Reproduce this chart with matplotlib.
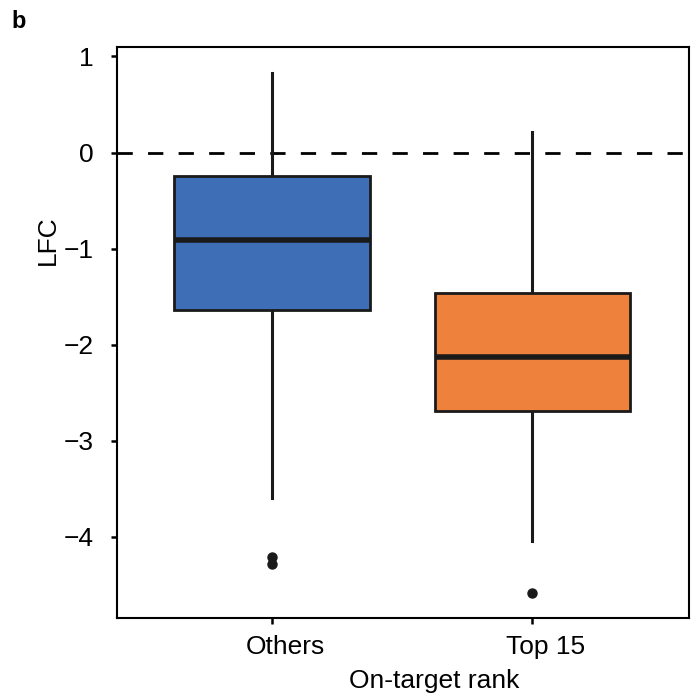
import matplotlib
matplotlib.use("Agg")
import matplotlib.pyplot as plt
import matplotlib.transforms as mtransforms

plt.rcParams["font.family"] = ["Liberation Sans", "DejaVu Sans"]

categories = ["Others", "Top 15"]
whisker_high = [0.83, 0.21]
q3 = [-0.24, -1.46]
median = [-0.91, -2.125]
q1 = [-1.64, -2.69]
whisker_low = [-3.59, -4.04]
outliers = [[-4.21, -4.28], [-4.58]]
colors = ["#3E6EB5", "#EE823C"]

stats = []
for i, name in enumerate(categories):
    stats.append(dict(label=name, med=median[i], q1=q1[i], q3=q3[i],
                      whislo=whisker_low[i], whishi=whisker_high[i],
                      fliers=outliers[i]))

fig = plt.figure(figsize=(6.99, 6.98), dpi=100)
ax = fig.add_axes([0.167, 0.115, 0.818, 0.818])

ax.axhline(0, color="black", lw=2.0, dashes=(5.5, 5.5), zorder=1)

bp = ax.bxp(stats, positions=[1, 2], widths=0.75, patch_artist=True,
            showcaps=False,
            boxprops=dict(edgecolor="#1a1a1a", linewidth=2.0),
            medianprops=dict(color="#1a1a1a", linewidth=4.0),
            whiskerprops=dict(color="#1a1a1a", linewidth=2.2),
            flierprops=dict(marker="o", markerfacecolor="#1a1a1a",
                            markeredgecolor="#1a1a1a", markersize=6.5))
for patch, c in zip(bp["boxes"], colors):
    patch.set_facecolor(c)
for w in bp["whiskers"]:
    w.set_zorder(2)
for b in bp["boxes"]:
    b.set_zorder(3)
for m in bp["medians"]:
    m.set_zorder(4)

ax.set_xlim(0.404, 2.60)
ax.set_ylim(-4.84, 1.10)
ax.set_yticks([1, 0, -1, -2, -3, -4])
ax.set_yticklabels(["1", "0", "\u22121", "\u22122", "\u22123", "\u22124"])
ax.set_xticks([1, 2])
ax.set_xticklabels(categories)
ax.tick_params(labelsize=19, length=4.5, width=1.8, direction="out")
ax.tick_params(axis="y", pad=12)
ax.tick_params(axis="x", pad=8)
for s in ax.spines.values():
    s.set_linewidth(1.5)

# category labels sit slightly right of their ticks
shift = mtransforms.ScaledTranslation(13 / 100, 0, fig.dpi_scale_trans)
for lbl in ax.get_xticklabels():
    lbl.set_transform(lbl.get_transform() + shift)

ax.set_ylabel("LFC", fontsize=19)
ax.yaxis.label.set_verticalalignment("center")
ax.yaxis.label.set_horizontalalignment("center")
ax.yaxis.set_label_coords(-0.120, 0.662)

ax.set_xlabel("On-target rank", fontsize=19)
ax.xaxis.set_label_coords(0.555, -0.089)

fig.text(0.016, 0.985, "b", fontsize=17, fontweight="bold", va="top", ha="left")

fig.savefig("out.png", dpi=100)
